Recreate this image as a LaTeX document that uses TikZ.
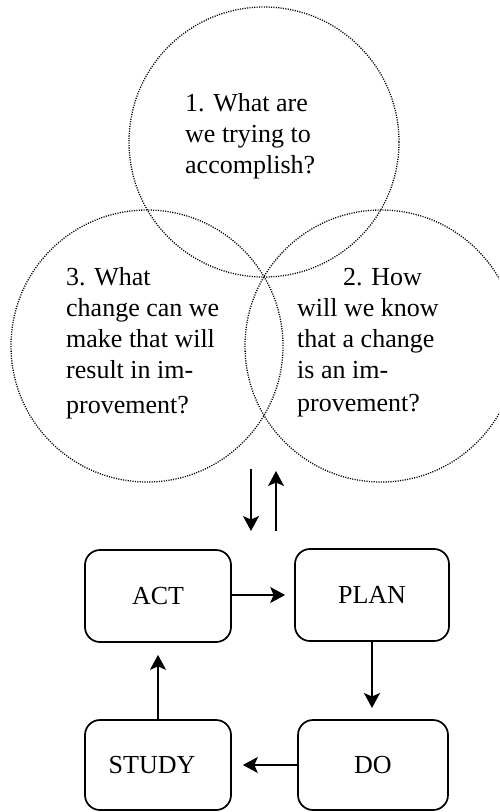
\documentclass[tikz,border=0pt]{standalone}
\usepackage{fontspec}
\setmainfont{Liberation Serif}
\usetikzlibrary{arrows.meta}
\begin{document}
\begin{tikzpicture}[x=1pt,y=-1pt,
  qcircle/.style={draw, line width=1.3pt, dash pattern=on 1.1pt off 1.3pt},
  pdsabox/.style={draw, line width=1.7pt, rounded corners=15pt, inner sep=0pt,
    font=\fontsize{26}{31}\selectfont},
  flow/.style={line width=1.6pt, -{Stealth[length=15pt,width=16pt,inset=3.5pt]}},
  qtext/.style={anchor=base west, inner sep=0pt, font=\fontsize{26}{31}\selectfont}
]
\useasboundingbox (0,0) rectangle (499,812);
\clip (0,0) rectangle (499,812);

% question circles
\draw[qcircle] (264,142) circle[radius=135pt];
\draw[qcircle] (147,346) circle[radius=136pt];
\draw[qcircle] (381,346) circle[radius=136pt];

% question texts
\node[qtext] (q1) at (185,111) {\begin{tabular}[t]{@{}l@{}}1. What are\\we trying to\\accomplish?\end{tabular}};
\node[qtext] (q3) at (66,285) {\begin{tabular}[t]{@{}l@{}}3. What\\change can we\\make that will\\result in im-\\[4pt]provement?\end{tabular}};
\node[qtext] (q2) at (297,285) {\begin{tabular}[t]{@{}l@{}}\hspace*{46pt}2. How\\will we know\\that a change\\is an im-\\[2pt]provement?\end{tabular}};

% PDSA boxes
\node[pdsabox, minimum width=146pt, minimum height=92pt] (act) at (158,596) {ACT};
\node[pdsabox, minimum width=154pt, minimum height=92pt] (plan) at (372,595) {PLAN};
\node[pdsabox, minimum width=146pt, minimum height=90pt] (study) at (158,765) {\hspace*{-12pt}STUDY};
\node[pdsabox, minimum width=150pt, minimum height=90pt] (do) at (373,765) {DO};

% cycle arrows
\draw[flow, shorten >=9pt] (act.east |- plan.west) -- (plan.west);
\draw[flow, shorten >=12pt] (plan.south -| 372,0) -- (372,720);
\draw[flow, shorten >=11pt] (do.west) -- (do.west -| study.east);
\draw[flow, shorten >=12pt] (study.north) -- (act.south);

% link arrows between questions and cycle
\coordinate (dtop) at (251,469);
\coordinate (dbot) at (251,531);
\coordinate (utop) at (276,471);
\coordinate (ubot) at (276,531);
\draw[flow] (dtop) -- (dbot);
\draw[flow] (ubot) -- (utop);
\end{tikzpicture}
\end{document}
